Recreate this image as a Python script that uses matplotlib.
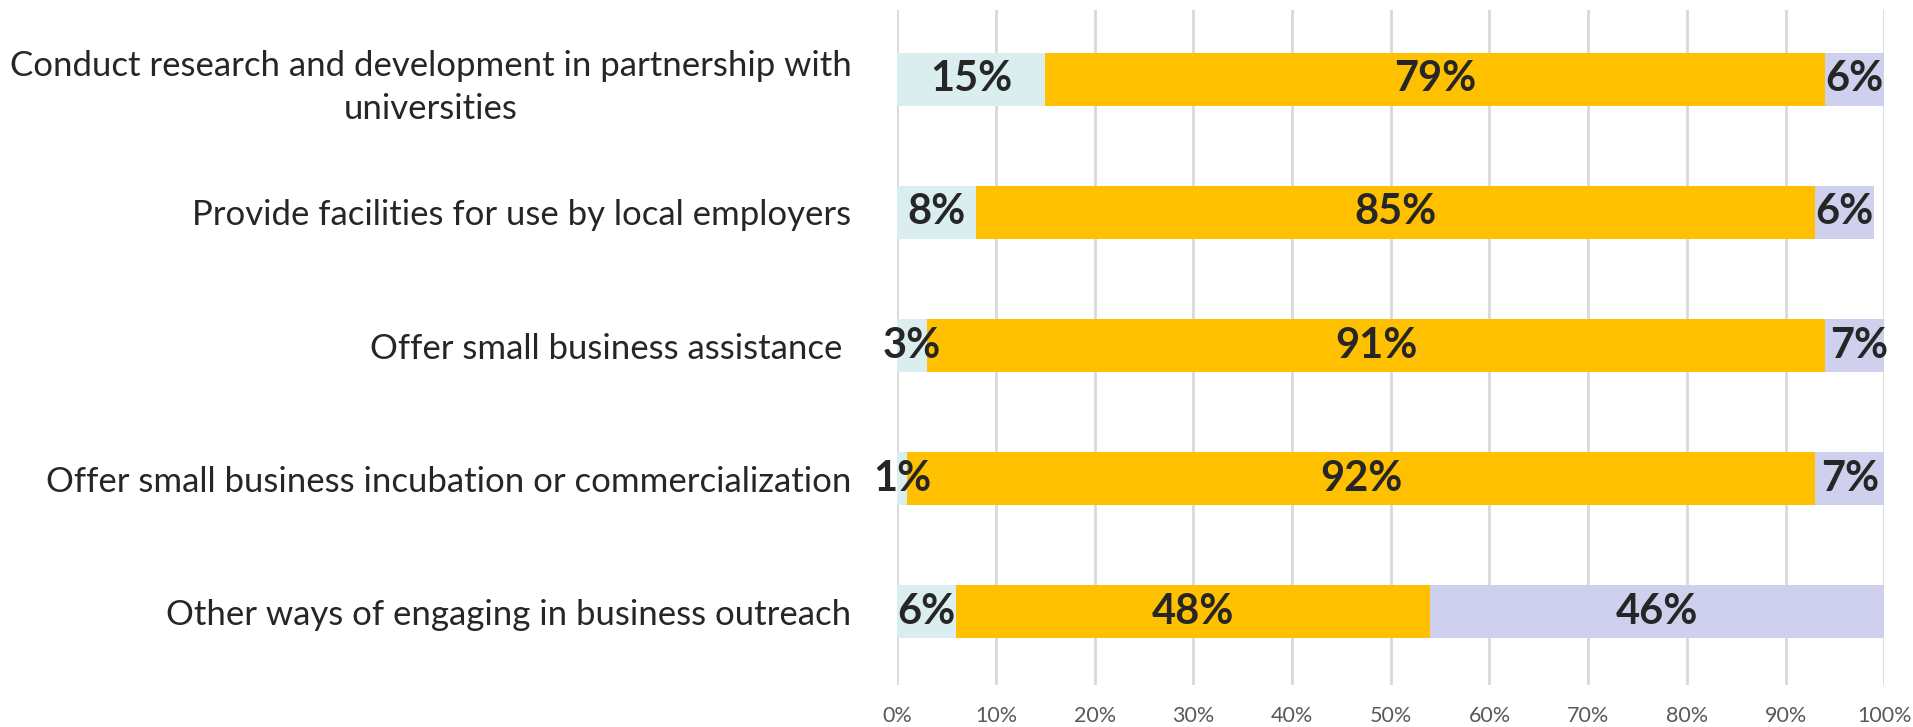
import matplotlib
matplotlib.use("Agg")
import matplotlib.pyplot as plt
from matplotlib.ticker import FixedLocator

categories = [
    "Conduct research and development in partnership with\nuniversities",
    "Provide facilities for use by local employers",
    "Offer small business assistance ",
    "Offer small business incubation or commercialization",
    "Other ways of engaging in business outreach",
]
series_a = [15, 8, 3, 1, 6]
series_b = [79, 85, 91, 92, 48]
series_c = [6, 6, 7, 7, 46]
tick_values = [0, 10, 20, 30, 40, 50, 60, 70, 80, 90, 100]
tick_labels = [f"{v}%" for v in tick_values]

colors = ["#DAEEF0", "#FFC000", "#CFCFEE"]

plt.rcParams['font.family'] = ['Lato', 'DejaVu Sans']

fig = plt.figure(figsize=(19.13, 7.27), dpi=100)
ax = fig.add_axes([0.469, 0.058, 0.516, 0.928])

y = list(range(len(categories)))
left = [0] * len(categories)
for vals, col in zip([series_a, series_b, series_c], colors):
    ax.barh(y, vals, left=left, height=0.40, color=col, zorder=2)
    for yi, l, v in zip(y, left, vals):
        ax.text(l + v / 2, yi, f"{v}%", ha="center", va="center",
                fontsize=30, fontweight="bold", color="#262626", zorder=3)
    left = [a + b for a, b in zip(left, vals)]

ax.set_xlim(0, 100)
ax.set_ylim(4.55, -0.52)
ax.xaxis.set_major_locator(FixedLocator(tick_values))
ax.set_xticklabels(tick_labels, fontsize=15.5, color="#595959")
ax.set_yticks(y)
ax.set_yticklabels(categories, fontsize=25, color="#262626",
                   multialignment="center", linespacing=1.4)
ax.tick_params(axis="x", length=0, pad=15)
ax.tick_params(axis="y", length=0, pad=33)
ax.grid(axis="x", color="#D9D9D9", linewidth=2, zorder=0)
for s in ax.spines.values():
    s.set_visible(False)

fig.savefig("out.png", dpi=100)
